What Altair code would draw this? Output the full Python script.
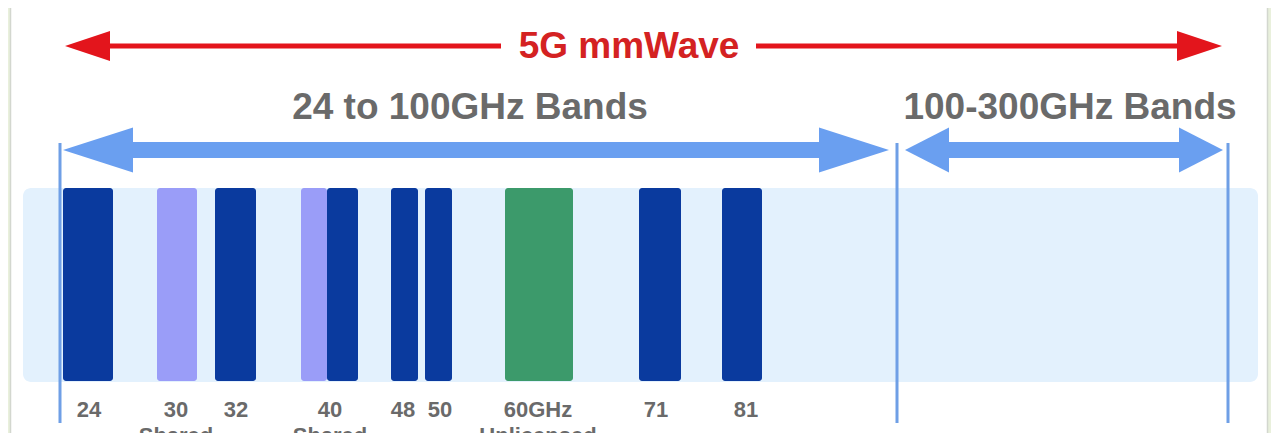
import altair as alt
import pandas as pd

# ---------------- data (schematic layout units = page pixels) ----------------
band_kind = ["licensed", "shared", "licensed", "shared", "licensed",
             "licensed", "licensed", "unlicensed", "licensed", "licensed"]
band_name = ["24", "30", "32", "40 shared", "40", "48", "50", "60", "71", "81"]
band_start = [63, 157, 215, 301, 327, 391, 425, 505, 639, 722]
band_end = [113, 197, 256, 327, 358, 418, 452, 573, 681, 762]

tick_labels = ["24", "30", "32", "40", "48", "50", "60GHz", "71", "81"]
tick_pos = [89, 176, 236, 330, 403, 440, 538, 656, 746]

sub_labels = ["Shared", "Shared", "Unlicensed"]
sub_pos = [176, 330, 538]

range_titles = ["24 to 100GHz Bands", "100-300GHz Bands"]
range_title_pos = [470, 1070]

range_arrow_start = [63, 905]
range_arrow_end = [889, 1223]
range_arrow_head = [70, 44]

divider_pos = [60, 897, 1228]

mm_title = "5G mmWave"
mm_title_pos = 629
mm_arrow_span = [65, 1222]

# ---------------- style constants ----------------
W, H = 1263, 425
X0, Y0 = 8, 8
DARK = "#0a3a9e"
PURPLE = "#9a9df8"
GREEN = "#3c9a6b"
BAND_BG = "#e3f1fd"
ARROW_BLUE = "#6a9ff0"
LINE_BLUE = "#6f9fe6"
RED = "#e3151c"
RED_TEXT = "#d42222"
GRAY = "#6a6a6a"
FONT = "Liberation Sans"

BAR_TOP, BAR_BOTTOM = 188, 381
ARROW_Y = 150
RED_Y = 46

xs = alt.Scale(domain=[X0, X0 + W], nice=False, zero=False)
ys = alt.Scale(domain=[Y0, Y0 + H], nice=False, zero=False, reverse=True)


def X(f="x"):
    return alt.X(f"{f}:Q", scale=xs, axis=None)


def Y(f="y"):
    return alt.Y(f"{f}:Q", scale=ys, axis=None)


def arrow_parts(name, start, end, cy, head_l, head_h, shaft_h):
    heads = [
        dict(arrow=name + "L", x=start, y=cy, y2=cy),
        dict(arrow=name + "L", x=start + head_l, y=cy - head_h, y2=cy + head_h),
        dict(arrow=name + "R", x=end - head_l, y=cy - head_h, y2=cy + head_h),
        dict(arrow=name + "R", x=end, y=cy, y2=cy),
    ]
    shaft = dict(arrow=name, x=start + head_l - 1, x2=end - head_l + 1,
                 y=cy - shaft_h, y2=cy + shaft_h)
    return heads, shaft


def arrow_layers(specs, color):
    heads, shafts = [], []
    for s in specs:
        h, sh = arrow_parts(*s)
        heads += h
        shafts.append(sh)
    head_layer = alt.Chart(pd.DataFrame(heads)).mark_area(
        color=color, opacity=1, interpolate="linear").encode(
        x=X(), y=Y(), y2="y2:Q", detail="arrow:N")
    shaft_layer = alt.Chart(pd.DataFrame(shafts)).mark_rect(color=color).encode(
        x=X(), x2="x2:Q", y=Y(), y2="y2:Q")
    return [shaft_layer, head_layer]


# ---------------- frame ----------------
frame = pd.DataFrame({
    "x": [X0, 1268], "x2": [10, X0 + W], "y": [Y0, Y0], "y2": [Y0 + H, Y0 + H]
})
frame_layer = alt.Chart(frame).mark_rect(color="#e9f0dc").encode(
    x=X(), x2="x2:Q", y=Y(), y2="y2:Q")
shadow = alt.Chart(pd.DataFrame({"x": [10.5, 1267.5]})).mark_rule(
    color="#d3d7cf", strokeWidth=1.5).encode(
    x=X(), y=alt.value(0), y2=alt.value(H))

# light band background
band_bg = alt.Chart(pd.DataFrame({"x": [23], "x2": [1258], "y": [BAR_TOP], "y2": [BAR_BOTTOM + 1]})
                    ).mark_rect(color=BAND_BG, cornerRadius=8).encode(
    x=X(), x2="x2:Q", y=Y(), y2="y2:Q")

# band bars
bars_df = pd.DataFrame({"name": band_name, "kind": band_kind,
                        "x": band_start, "x2": band_end})
bars_df["y"] = BAR_TOP
bars_df["y2"] = BAR_BOTTOM
bars = alt.Chart(bars_df).mark_rect(cornerRadius=3).encode(
    x=X(), x2="x2:Q", y=Y(), y2="y2:Q",
    color=alt.Color("kind:N", legend=None,
                    scale=alt.Scale(domain=["licensed", "shared", "unlicensed"],
                                    range=[DARK, PURPLE, GREEN])))

# divider lines
dividers = alt.Chart(pd.DataFrame({"x": divider_pos})).transform_calculate(
    y="143", y2="423").mark_rule(color=LINE_BLUE, strokeWidth=3).encode(
    x=X(), y=Y(), y2="y2:Q")

# blue range arrows
blue_specs = [(f"a{i}", s, e, ARROW_Y, hl, 22.5, 8)
              for i, (s, e, hl) in enumerate(zip(range_arrow_start, range_arrow_end, range_arrow_head))]
blue_layers = arrow_layers(blue_specs, ARROW_BLUE)

# red mmWave arrow
red_layers = arrow_layers([("red", mm_arrow_span[0], mm_arrow_span[1], RED_Y, 45, 15, 2.6)], RED)
red_gap = alt.Chart(pd.DataFrame({"x": [mm_title_pos - 128], "x2": [mm_title_pos + 127],
                                  "y": [RED_Y - 6], "y2": [RED_Y + 6]})).mark_rect(
    color="white").encode(x=X(), x2="x2:Q", y=Y(), y2="y2:Q")
red_text = alt.Chart(pd.DataFrame({"x": [mm_title_pos], "y": [RED_Y + 1], "t": [mm_title]})).mark_text(
    font=FONT, fontSize=37, fontWeight="bold", color=RED_TEXT, baseline="middle", align="center").encode(
    x=X(), y=Y(), text="t:N")

# range titles
titles = alt.Chart(pd.DataFrame({"x": range_title_pos, "t": range_titles})).transform_calculate(
    y="108").mark_text(font=FONT, fontSize=37, fontWeight="bold", color=GRAY,
                       baseline="middle", align="center").encode(
    x=X(), y=Y(), text="t:N")

# tick labels
ticks = alt.Chart(pd.DataFrame({"x": tick_pos, "t": tick_labels})).transform_calculate(
    y="410").mark_text(font=FONT, fontSize=22, fontWeight="bold", color=GRAY,
                       baseline="middle", align="center").encode(
    x=X(), y=Y(), text="t:N")

subs = alt.Chart(pd.DataFrame({"x": sub_pos, "t": sub_labels})).transform_calculate(
    y="426").mark_text(font=FONT, fontSize=22, fontWeight="bold", color=GRAY,
                       baseline="top", align="center", clip=True).encode(
    x=X(), y=Y(), text="t:N")

chart = alt.layer(
    frame_layer, shadow, band_bg, bars, dividers, *blue_layers,
    *red_layers, red_gap, red_text, titles, ticks, subs
).properties(
    width=W, height=H, padding=0, background="white",
    autosize=alt.AutoSizeParams(type="none")
).configure_view(stroke=None)

chart.save("out.html", embed_options={"renderer": "svg", "actions": False})
